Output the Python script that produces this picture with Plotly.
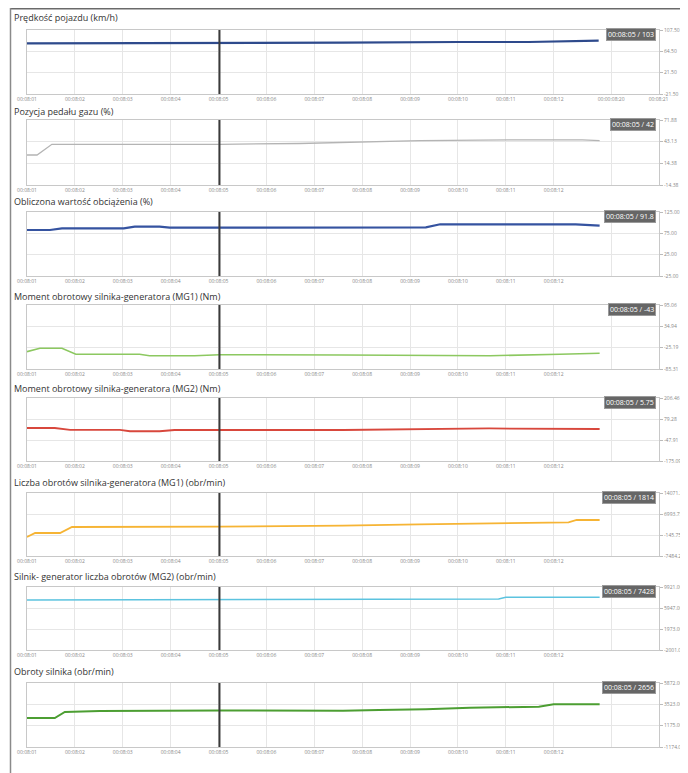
import numpy as np
import plotly.graph_objects as go

# page is 688x773; the html body adds an 8px margin, so the figure is drawn 8px in
OFF = 8
W, H = 688 - OFF, 773 - OFF

# ---------------- data ----------------
# x tick positions (seconds after 00:08:00) and their labels
x_tick_vals = [1, 2, 3, 4, 5, 6, 7, 8, 9, 10, 11, 12, 13.2]
x_tick_text = ["00:08:01", "00:08:02", "00:08:03", "00:08:04", "00:08:05", "00:08:06",
               "00:08:07", "00:08:08", "00:08:09", "00:08:10", "00:08:11", "00:08:12", ""]
x_tick_vals_first = [1, 2, 3, 4, 5, 6, 7, 8, 9, 10, 11, 12, 13.2, 14.19]
x_tick_text_first = ["00:08:01", "00:08:02", "00:08:03", "00:08:04", "00:08:05", "00:08:06",
                     "00:08:07", "00:08:08", "00:08:09", "00:08:10", "00:08:11", "00:08:12",
                     "00:00:08:20", "00:08:21"]
cursor_time = 5.02

titles = [
    "Prędkość pojazdu (km/h)",
    "Pozycja pedału gazu (%)",
    "Obliczona wartość obciążenia (%)",
    "Moment obrotowy silnika-generatora (MG1) (Nm)",
    "Moment obrotowy silnika-generatora (MG2) (Nm)",
    "Liczba obrotów silnika-generatora (MG1) (obr/min)",
    "Silnik- generator liczba obrotów (MG2) (obr/min)",
    "Obroty silnika (obr/min)",
]
tooltips = ["00:08:05 / 103", "00:08:05 / 42", "00:08:05 / 91.8", "00:08:05 / -43",
            "00:08:05 / 5.75", "00:08:05 / 1814", "00:08:05 / 7428", "00:08:05 / 2656"]

y_tick_text = [
    ["107.50", "64.50", "21.50", "-21.50"],
    ["71.88", "43.13", "14.38", "-14.38"],
    ["125.00", "75.00", "25.00", "-25.00"],
    ["95.06", "34.94", "-25.19", "-85.31"],
    ["206.46", "79.28", "-47.91", "-175.09"],
    ["14071.25", "6993.75", "-145.75", "-7484.25"],
    ["9921.00", "5947.00", "1973.00", "-2001.00"],
    ["5872.00", "3523.00", "1175.00", "-1174.00"],
]
y_top = [107.5, 71.88, 125.0, 95.06, 206.46, 14071.25, 9921.0, 5872.0]
y_bottom = [-21.5, -14.38, -25.0, -85.31, -175.09, -7484.25, -2001.0, -1174.0]

speed_t = [1.0, 5.02, 6.69, 7.6, 10.02, 11.48, 12.94]
speed_v = [80.7, 80.7, 81.9, 81.9, 83.3, 83.3, 85.9]

pedal_t = [1.0, 1.21, 1.52, 5.02, 6.69, 7.6, 9.21, 11.08, 12.6, 12.96]
pedal_v = [25.4, 25.4, 39.6, 39.6, 40.7, 42.3, 44.4, 45.4, 45.4, 44.4]

load_t = [1.0, 1.48, 1.73, 3.02, 3.25, 3.77, 3.98, 7.6, 9.33, 9.63, 12.46, 12.96]
load_v = [82.8, 82.8, 86.8, 86.8, 90.5, 90.5, 88.2, 89.1, 89.1, 96.2, 96.2, 92.9]

mg1_torque_t = [1.0, 1.27, 1.73, 2.02, 3.35, 3.56, 4.5, 5.02, 7.6, 9.42, 10.67, 12.13, 12.96]
mg1_torque_v = [-36.5, -26.9, -26.9, -43.9, -43.9, -47.8, -47.8, -45.0, -45.8, -47.8, -47.8, -43.9, -41.0]

mg2_torque_t = [1.0, 1.58, 1.9, 2.94, 3.15, 3.77, 4.08, 7.6, 10.65, 12.73, 12.96]
mg2_torque_v = [24.8, 24.8, 14.0, 14.0, 5.0, 5.0, 12.7, 12.7, 22.0, 23.0, 18.7]

mg1_rpm_t = [1.0, 1.17, 1.69, 1.94, 5.02, 7.6, 9.19, 10.44, 11.9, 12.31, 12.48, 12.96]
mg1_rpm_v = [-985, 383, 383, 2437, 2600, 2881, 3360, 3703, 4045, 4045, 4832, 4832]

mg2_rpm_t = [1.0, 5.02, 7.6, 9.19, 10.85, 11.0, 12.96]
mg2_rpm_v = [7461, 7555, 7650, 7745, 7650, 7972, 7972]

engine_rpm_t = [1.0, 1.58, 1.79, 2.52, 5.02, 7.6, 8.35, 9.33, 10.25, 11.69, 12.0, 12.96]
engine_rpm_v = [2018, 2018, 2679, 2789, 2844, 2822, 2899, 2976, 3153, 3263, 3527, 3527]

series_t = [speed_t, pedal_t, load_t, mg1_torque_t, mg2_torque_t, mg1_rpm_t, mg2_rpm_t, engine_rpm_t]
series_v = [speed_v, pedal_v, load_v, mg1_torque_v, mg2_torque_v, mg1_rpm_v, mg2_rpm_v, engine_rpm_v]

# ---------------- styling ----------------
colors = ["#2e4a8c", "#b4b4b4", "#3553a0", "#8cc860", "#d8473c", "#f6b434", "#5cc3df", "#4c9e32"]
widths = [2.2, 1.3, 2.2, 1.6, 1.8, 1.8, 1.5, 2.0]

# page-pixel layout of the plot areas (top, bottom)
plot_px = [(30, 94), (120, 185), (212, 276), (305, 369), (398, 461), (493, 556), (587, 650), (683, 747)]
title_px = [18, 112, 201, 296, 388, 482, 576, 671]
x_left_px, x_right_px = 27, 659


def px(p):
    return (p - OFF) / W


def py(p):
    return 1 - (p - OFF) / H


fig = go.Figure()
layout = dict(
    width=W, height=H, autosize=False,
    margin=dict(l=0, r=0, t=0, b=0),
    paper_bgcolor="white", plot_bgcolor="white",
    showlegend=False,
    template="none",
    font=dict(family="Open Sans, DejaVu Sans, sans-serif", color="#444"),
)
annotations = []
shapes = []

for i in range(8):
    n = i + 1
    xa = "x" if n == 1 else f"x{n}"
    ya = "y" if n == 1 else f"y{n}"
    fig.add_trace(go.Scatter(
        x=series_t[i], y=series_v[i], mode="lines",
        line=dict(color=colors[i], width=widths[i]),
        xaxis=xa, yaxis=ya, hoverinfo="skip",
    ))
    top, bot = plot_px[i]
    tv = x_tick_vals_first if i == 0 else x_tick_vals
    tt = x_tick_text_first if i == 0 else x_tick_text
    layout[f"xaxis{n}"] = dict(
        domain=[px(x_left_px), px(x_right_px)], anchor=ya,
        range=[1, 14.2], tickmode="array", tickvals=tv, ticktext=tt,
        showgrid=True, gridcolor="#e6e6e6", gridwidth=1,
        showline=True, linecolor="#c8c8c8", linewidth=1, mirror=True,
        ticks="", tickfont=dict(size=5, color="#888"),
        zeroline=False, automargin=False, fixedrange=True,
    )
    yvals = list(np.linspace(y_top[i], y_bottom[i], 4))
    layout[f"yaxis{n}"] = dict(
        domain=[py(bot), py(top)], anchor=xa, side="right",
        range=[y_bottom[i], y_top[i]], tickmode="array",
        tickvals=yvals, ticktext=y_tick_text[i],
        showgrid=True, gridcolor="#e6e6e6", gridwidth=1,
        showline=True, linecolor="#c8c8c8", linewidth=1, mirror=True,
        ticks="outside", ticklen=3, tickcolor="#bbb",
        tickfont=dict(size=5, color="#888"),
        zeroline=False, automargin=False, fixedrange=True,
    )
    # cursor line
    shapes.append(dict(type="line", xref=xa, yref=f"{ya} domain",
                       x0=cursor_time, x1=cursor_time, y0=0, y1=1,
                       line=dict(color="#3a3a3a", width=2)))
    # title
    annotations.append(dict(text=titles[i], xref="paper", yref="paper",
                            x=px(12), y=py(title_px[i]), xanchor="left", yanchor="middle",
                            showarrow=False, font=dict(size=9, color="#333")))
    # value tooltip
    annotations.append(dict(text=tooltips[i], xref=f"{xa} domain", yref=f"{ya} domain",
                            x=0.995, y=1.03, xanchor="right", yanchor="top",
                            showarrow=False, bgcolor="#666666", bordercolor="#9a9a9a",
                            borderwidth=1, borderpad=1,
                            font=dict(size=7, color="white")))

# outer frame
shapes.append(dict(type="line", xref="paper", yref="paper", x0=px(10), x1=1, y0=py(8.5), y1=py(8.5),
                   line=dict(color="#6a6a6a", width=2)))
shapes.append(dict(type="line", xref="paper", yref="paper", x0=px(10.5), x1=px(10.5), y0=py(8), y1=0,
                   line=dict(color="#8a8a8a", width=1.5)))

layout["annotations"] = annotations
layout["shapes"] = shapes
fig.update_layout(**layout)
fig.write_html("out.html")
